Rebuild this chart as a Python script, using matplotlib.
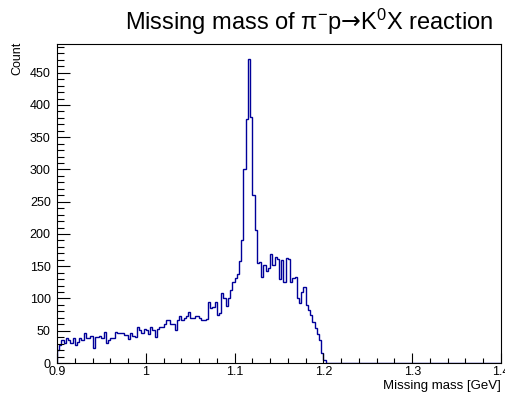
import numpy as np
import matplotlib
matplotlib.use("Agg")
import matplotlib.pyplot as plt
from matplotlib.ticker import MultipleLocator, FuncFormatter

plt.rcParams['font.family'] = ['Liberation Sans', 'DejaVu Sans']
plt.rcParams['mathtext.fontset'] = 'custom'
plt.rcParams['mathtext.rm'] = 'Liberation Sans'
plt.rcParams['mathtext.it'] = 'Liberation Sans'
plt.rcParams['mathtext.bf'] = 'Liberation Sans'
plt.rcParams['mathtext.sf'] = 'DejaVu Sans'

# histogram range and binning
x_min, x_max, n_bins = 0.9, 1.4, 200

# bin contents (bins beyond the listed ones are empty)
counts_data = [
    20, 28, 36, 31, 38, 36, 31, 38, 28, 33,
    38, 36, 47, 38, 38, 42, 23, 41, 41, 42,
    38, 48, 31, 36, 38, 38, 48, 47, 46, 47,
    43, 43, 37, 46, 42, 40, 56, 51, 46, 53,
    51, 45, 56, 51, 41, 52, 56, 56, 60, 67,
    67, 61, 60, 51, 66, 73, 67, 70, 73, 79,
    70, 70, 73, 73, 69, 67, 67, 68, 95, 86,
    87, 94, 74, 77, 108, 100, 88, 101, 113, 125,
    132, 138, 158, 191, 300, 378, 471, 382, 260, 206,
    155, 156, 134, 152, 143, 148, 169, 152, 165, 161,
    130, 160, 126, 163, 161, 126, 132, 134, 100, 93,
    110, 118, 90, 82, 74, 64, 55, 45, 35, 15,
    5,
]

title = r"Missing mass of π$^{\mathrm{-}}$p$\mathsf{→}$K$^{0}$X reaction"
x_title = "Missing mass [GeV]"
y_title = "Count"

counts = np.zeros(n_bins)
counts[:len(counts_data)] = counts_data
edges = np.linspace(x_min, x_max, n_bins + 1)

W, H = 505, 396
fig = plt.figure(figsize=(W / 100, H / 100), dpi=100)
L, R, T, B = 57, 501, 44, 363
ax = fig.add_axes([L / W, 1 - B / H, (R - L) / W, (B - T) / H])

ax.stairs(counts, edges, color='#000099', lw=1.0, baseline=0)

ax.set_xlim(x_min, x_max)
ax.set_ylim(0, max(counts) * 1.05)

ax.xaxis.set_major_locator(MultipleLocator(0.1))
ax.xaxis.set_minor_locator(MultipleLocator(0.02))
ax.yaxis.set_major_locator(MultipleLocator(50))
ax.yaxis.set_minor_locator(MultipleLocator(10))
ax.xaxis.set_major_formatter(FuncFormatter(lambda v, p: f"{v:g}"))
ax.yaxis.set_major_formatter(FuncFormatter(lambda v, p: f"{v:g}"))

ax.tick_params(axis='x', which='major', direction='in', length=6.9, width=0.8,
               labelsize=9, pad=2.0, top=False)
ax.tick_params(axis='x', which='minor', direction='in', length=3.5, width=0.8, top=False)
ax.tick_params(axis='y', which='major', direction='in', length=9.4, width=0.8,
               labelsize=9, pad=4.5, right=False)
ax.tick_params(axis='y', which='minor', direction='in', length=4.8, width=0.8, right=False)

for s in ax.spines.values():
    s.set_linewidth(0.8)
    s.set_color('black')

fig.text(309 / W, 1 - 29.5 / H, title, ha='center', va='baseline', fontsize=17)
fig.text(501 / W, 1 - 386 / H, x_title, ha='right', va='center', fontsize=9.5)
fig.text(17.5 / W, 1 - 42 / H, y_title, ha='center', va='top', rotation=90, fontsize=9)

fig.savefig("out.png", dpi=100)
